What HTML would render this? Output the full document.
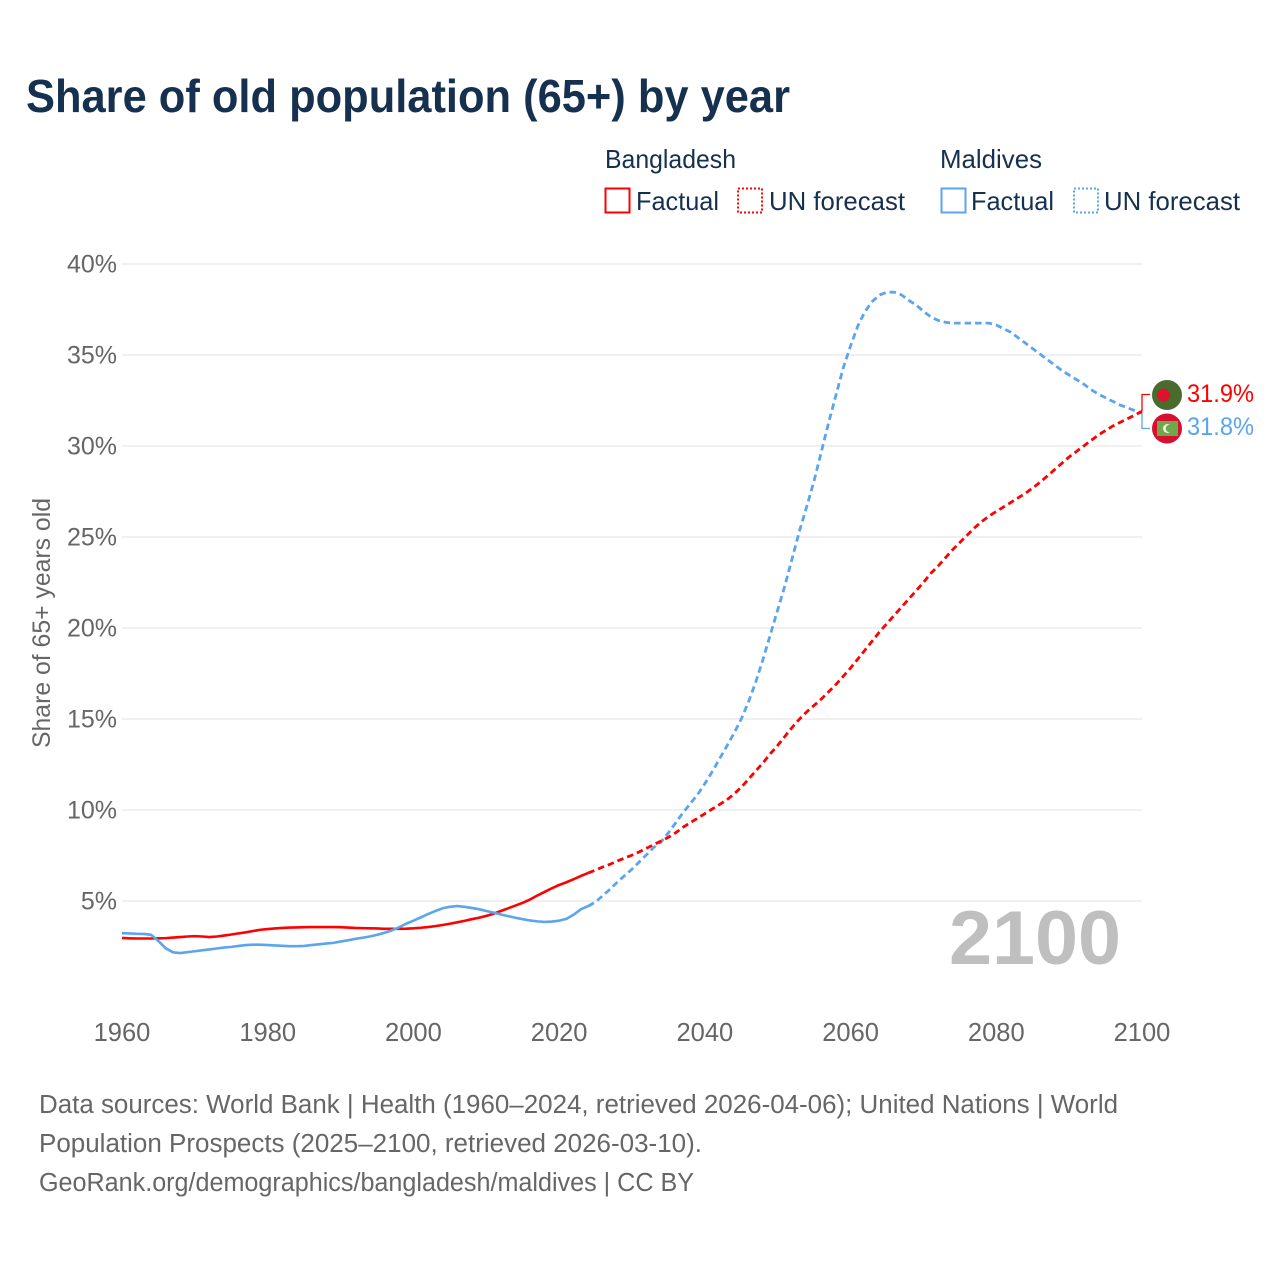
<!DOCTYPE html>
<html lang="en">
<head>
<meta charset="utf-8">
<title>Share of old population (65+) by year</title>
<style>
html,body{margin:0;padding:0;background:#fff;}
svg{display:block;font-family:"Liberation Sans",sans-serif;}
</style>
</head>
<body>
<svg id="chart" xmlns="http://www.w3.org/2000/svg" width="1280" height="1280" viewBox="0 0 1280 1280">
  <rect width="1280" height="1280" fill="#fff"/>
  <text x="26" y="112" font-size="46" font-weight="700" fill="#16304f" textLength="764" lengthAdjust="spacingAndGlyphs">Share of old population (65+) by year</text>

  <g font-size="26" fill="#16304f">
    <text x="605" y="168" textLength="131" lengthAdjust="spacingAndGlyphs">Bangladesh</text>
    <text x="940" y="168" textLength="102" lengthAdjust="spacingAndGlyphs">Maldives</text>
    <rect x="605.5" y="188.5" width="24" height="24" fill="none" stroke="#ff0000" stroke-width="2"/>
    <text x="636" y="210" textLength="83" lengthAdjust="spacingAndGlyphs">Factual</text>
    <rect x="738" y="188.5" width="24" height="24" fill="none" stroke="#ff0000" stroke-width="2" stroke-dasharray="2 2"/>
    <text x="769" y="210" textLength="136" lengthAdjust="spacingAndGlyphs">UN forecast</text>
    <rect x="941.5" y="188.5" width="24" height="24" fill="none" stroke="#5ba4ee" stroke-width="2"/>
    <text x="971" y="210" textLength="83" lengthAdjust="spacingAndGlyphs">Factual</text>
    <rect x="1074" y="188.5" width="24" height="24" fill="none" stroke="#5ba4ee" stroke-width="2" stroke-dasharray="2 2"/>
    <text x="1104" y="210" textLength="136" lengthAdjust="spacingAndGlyphs">UN forecast</text>
  </g>

  <g id="grid"></g>
  <g id="yTicks" font-size="25" fill="#666"></g>
  <g id="xTicks" font-size="25.5" fill="#666"></g>
  <text transform="translate(50,748) rotate(-90)" font-size="25" fill="#666" textLength="250" lengthAdjust="spacingAndGlyphs">Share of 65+ years old</text>
  <text id="yearMark" x="949" y="964" font-size="76" font-weight="700" fill="#bfbfbf" textLength="172" lengthAdjust="spacingAndGlyphs">2100</text>
  <g id="series"></g>

  <g id="connectors"></g>

  <g>
    <circle cx="1167" cy="395" r="15" fill="#4a6b2e"/>
    <circle cx="1163.5" cy="395" r="6.5" fill="#e0102f"/>
  </g>
  <g>
    <circle cx="1167" cy="428.5" r="15" fill="#d8102f"/>
    <rect x="1157" y="421" width="21" height="15" fill="#70a84c"/>
    <circle cx="1167.5" cy="428.5" r="4.5" fill="#f2f2ea"/>
    <circle cx="1169.5" cy="428.5" r="3.8" fill="#70a84c"/>
  </g>
  <g id="endLabels" font-size="25"></g>

  <g font-size="25.5" fill="#666">
    <text x="39" y="1113" textLength="1079" lengthAdjust="spacingAndGlyphs">Data sources: World Bank | Health (1960–2024, retrieved 2026-04-06); United Nations | World</text>
    <text x="39" y="1152" textLength="663" lengthAdjust="spacingAndGlyphs">Population Prospects (2025–2100, retrieved 2026-03-10).</text>
    <text x="39" y="1191" textLength="655" lengthAdjust="spacingAndGlyphs">GeoRank.org/demographics/bangladesh/maldives | CC BY</text>
  </g>
</svg>
<script>
var yTickValues = [5, 10, 15, 20, 25, 30, 35, 40];
var xTickValues = [1960, 1980, 2000, 2020, 2040, 2060, 2080, 2100];
var factualStartYear = 1960;
var forecastStartYear = 2024;
var bangladeshFactual = [2.97,2.95,2.94,2.94,2.94,2.95,2.96,2.99,3.02,3.05,3.07,3.05,3.02,3.05,3.10,3.16,3.22,3.28,3.35,3.42,3.46,3.49,3.52,3.54,3.55,3.56,3.57,3.57,3.57,3.57,3.56,3.54,3.52,3.51,3.50,3.49,3.47,3.47,3.47,3.48,3.50,3.53,3.57,3.62,3.68,3.75,3.83,3.91,4.00,4.08,4.18,4.30,4.45,4.60,4.75,4.90,5.08,5.30,5.50,5.70,5.88,6.03,6.20,6.38,6.54];
var maldivesFactual = [3.23,3.22,3.20,3.19,3.14,2.80,2.40,2.18,2.14,2.19,2.24,2.29,2.34,2.39,2.44,2.48,2.53,2.58,2.60,2.60,2.58,2.56,2.54,2.52,2.52,2.53,2.58,2.62,2.66,2.70,2.77,2.84,2.92,2.98,3.05,3.14,3.25,3.38,3.55,3.75,3.92,4.10,4.28,4.45,4.60,4.68,4.72,4.68,4.62,4.55,4.45,4.36,4.26,4.17,4.08,4.00,3.93,3.88,3.85,3.87,3.92,4.02,4.25,4.55,4.72];
var bangladeshForecast = [6.54,6.70,6.87,7.02,7.20,7.36,7.52,7.70,7.90,8.10,8.30,8.50,8.75,9.05,9.30,9.55,9.80,10.05,10.30,10.55,10.88,11.25,11.70,12.15,12.60,13.10,13.55,14.05,14.55,15.00,15.40,15.75,16.10,16.50,16.90,17.35,17.80,18.30,18.80,19.30,19.80,20.25,20.70,21.15,21.60,22.05,22.50,23.00,23.40,23.85,24.30,24.70,25.10,25.50,25.85,26.15,26.40,26.65,26.90,27.15,27.40,27.70,28.00,28.35,28.70,29.05,29.40,29.70,30.00,30.30,30.60,30.85,31.10,31.30,31.50,31.70,31.90];
var maldivesForecast = [4.72,4.95,5.30,5.65,6.05,6.40,6.75,7.15,7.55,7.95,8.25,8.75,9.30,9.85,10.35,10.85,11.45,12.10,12.80,13.50,14.22,15.00,15.95,17.05,18.30,19.65,21.00,22.35,23.85,25.35,26.70,28.10,29.70,31.30,32.80,34.30,35.50,36.60,37.40,37.95,38.30,38.45,38.45,38.30,38.00,37.75,37.40,37.10,36.90,36.80,36.75,36.75,36.75,36.75,36.75,36.75,36.65,36.45,36.25,35.95,35.65,35.35,35.05,34.75,34.45,34.15,33.90,33.65,33.40,33.10,32.85,32.65,32.45,32.25,32.10,31.95,31.80];
var endLabelText = ["31.9%", "31.8%"];

var SVGNS = "http://www.w3.org/2000/svg";
function xScale(year) { return 122 + (year - 1960) * (1020 / 140); }
function yScale(value) { return 992 - value * 18.2; }
function linePath(values, startYear) {
  return values.map(function (v, i) {
    return (i ? "L" : "M") + xScale(startYear + i).toFixed(2) + " " + yScale(v).toFixed(2);
  }).join("");
}
function make(tag, parentId) {
  var el = document.createElementNS(SVGNS, tag);
  document.getElementById(parentId).appendChild(el);
  return el;
}

yTickValues.forEach(function (v) {
  var grid = make("line", "grid");
  
  
  grid.setAttribute("x1", 122);
  grid.setAttribute("x2", 1142);
  grid.setAttribute("y1", yScale(v));
  grid.setAttribute("y2", yScale(v));
  grid.setAttribute("stroke", "#e8e8e8");
  grid.setAttribute("stroke-width", "1.3");
  var label = make("text", "yTicks");
  
  
  label.setAttribute("x", 117);
  label.setAttribute("y", yScale(v) + 8.5);
  label.setAttribute("text-anchor", "end");
  label.textContent = v + "%";
});

xTickValues.forEach(function (year) {
  var label = make("text", "xTicks");
  
  
  label.setAttribute("x", xScale(year));
  label.setAttribute("y", 1041);
  label.setAttribute("text-anchor", "middle");
  label.textContent = year;
});

function drawLine(values, startYear, color, dashed, name) {
  var path = make("path", "series");
  
  
  path.setAttribute("d", linePath(values, startYear));
  path.setAttribute("fill", "none");
  path.setAttribute("stroke", color);
  path.setAttribute("stroke-width", dashed ? "2.8" : "2.6");
  path.setAttribute("stroke-linejoin", "round");
  if (dashed) { path.setAttribute("stroke-dasharray", "6.5 4"); }
}
drawLine(bangladeshFactual, factualStartYear, "#ff0000", false, "line-bangladesh-factual");
drawLine(maldivesForecast, forecastStartYear, "#5ba4ee", true, "line-maldives-forecast");
drawLine(bangladeshForecast, forecastStartYear, "#ff0000", true, "line-bangladesh-forecast");
drawLine(maldivesFactual, factualStartYear, "#5ba4ee", false, "line-maldives-factual");

var lastBangladesh = bangladeshForecast[bangladeshForecast.length - 1];
var lastMaldives = maldivesForecast[maldivesForecast.length - 1];

var connectorB = make("path", "connectors");


connectorB.setAttribute("d", "M1142 " + yScale(lastMaldives) + "V428.5H1150");
connectorB.setAttribute("fill", "none");
connectorB.setAttribute("stroke", "#5ba4ee");
connectorB.setAttribute("stroke-width", "1.3");

var connectorA = make("path", "connectors");


connectorA.setAttribute("d", "M1142 " + yScale(lastBangladesh) + "V394.5H1150");
connectorA.setAttribute("fill", "none");
connectorA.setAttribute("stroke", "#ff0000");
connectorA.setAttribute("stroke-width", "1.3");

var labelA = make("text", "endLabels");


labelA.setAttribute("x", 1187);
labelA.setAttribute("y", 402);
labelA.setAttribute("fill", "#ff0000");
labelA.setAttribute("textLength", 67);
labelA.setAttribute("lengthAdjust", "spacingAndGlyphs");
labelA.textContent = endLabelText[0];

var labelB = make("text", "endLabels");


labelB.setAttribute("x", 1187);
labelB.setAttribute("y", 435);
labelB.setAttribute("fill", "#5ba4ee");
labelB.setAttribute("textLength", 67);
labelB.setAttribute("lengthAdjust", "spacingAndGlyphs");
labelB.textContent = endLabelText[1];
</script>
</body>
</html>
